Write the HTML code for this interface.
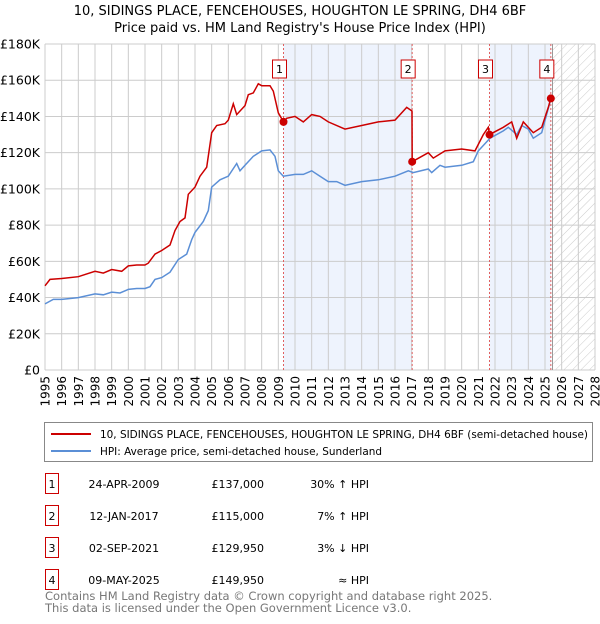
<!DOCTYPE html>
<html><head><meta charset="utf-8"><style>
body{margin:0;background:#fff;font-family:"DejaVu Sans","Liberation Sans",sans-serif;}
svg text{font-family:"DejaVu Sans","Liberation Sans",sans-serif;}
</style></head><body>
<svg id="chart" width="600" height="620" viewBox="0 0 600 620" xmlns="http://www.w3.org/2000/svg">
<defs><pattern id="hatch" width="6" height="6" patternUnits="userSpaceOnUse" patternTransform="rotate(45)"><line x1="0" y1="0" x2="0" y2="6" stroke="#ccc" stroke-width="1"/></pattern></defs>
<text x="300" y="15" text-anchor="middle" font-size="13">10, SIDINGS PLACE, FENCEHOUSES, HOUGHTON LE SPRING, DH4 6BF</text>
<text x="300" y="32" text-anchor="middle" font-size="13">Price paid vs. HM Land Registry's House Price Index (HPI)</text>
<g id="bg"></g><g id="grid"></g><g id="series"></g><g id="marks"></g>
<rect x="44.5" y="422.5" width="548" height="39" fill="#fff" stroke="#888"/>
<line x1="51" y1="434" x2="91" y2="434" stroke="#cc0000" stroke-width="2"/>
<text x="100" y="438" font-size="11" textLength="488" lengthAdjust="spacingAndGlyphs">10, SIDINGS PLACE, FENCEHOUSES, HOUGHTON LE SPRING, DH4 6BF (semi-detached house)</text>
<line x1="51" y1="451" x2="91" y2="451" stroke="#5b8fd6" stroke-width="2"/>
<text x="100" y="455" font-size="11" textLength="282" lengthAdjust="spacingAndGlyphs">HPI: Average price, semi-detached house, Sunderland</text>
<g id="table" font-size="11"></g>
<text x="45" y="600" font-size="11.5" fill="#777">Contains HM Land Registry data © Crown copyright and database right 2025.</text>
<text x="45" y="612" font-size="11.5" fill="#777">This data is licensed under the Open Government Licence v3.0.</text>
</svg>
<script>
const hpiT=[1995,1995.5,1996,1997,1998,1998.5,1999,1999.5,2000,2000.5,2001,2001.3,2001.6,2002,2002.5,2003,2003.5,2003.8,2004,2004.5,2004.8,2005,2005.5,2006,2006.5,2006.7,2007,2007.5,2008,2008.5,2008.8,2009,2009.3,2010,2010.5,2011,2011.5,2012,2012.5,2013,2014,2015,2016,2016.8,2017.1,2018,2018.2,2018.7,2019,2020,2020.7,2021,2021.7,2022.5,2022.8,2023.3,2023.6,2024,2024.3,2024.8,2025.3,2025.4];
const hpiV=[36.5,39,39,40,42,41.5,43,42.5,44.5,45,45,46,50,51,54,61,64,72,76,82,88,101,105,107,114,110,113,118,121,121.5,118,110,107,108,108,110,107,104,104,102,104,105,107,110,109,111,109,113,112,113,115,121,128,132,134,130,135,133,128,131,148,151];
const priceT=[1995,1995.3,1996,1997,1998,1998.5,1999,1999.6,2000,2000.5,2001,2001.2,2001.6,2002,2002.5,2002.8,2003.1,2003.4,2003.6,2004,2004.3,2004.7,2005,2005.3,2005.8,2006,2006.3,2006.5,2007,2007.2,2007.5,2007.8,2008,2008.5,2008.7,2009,2009.31,2009.5,2010,2010.5,2011,2011.5,2012,2013,2014,2015,2016,2016.7,2017.02,2017.03,2018,2018.3,2019,2020,2020.8,2021.3,2021.6,2021.67,2022.5,2023,2023.3,2023.7,2024.3,2024.8,2025.2,2025.35];
const priceV=[46.5,50,50.5,51.5,54.5,53.5,55.5,54.5,57.5,58,58,59,64,66,69,77,82,84,97,101,107,112,131,135,136,138,147,141,146,152,153,158,157,157,154,142,137,139,140,137,141,140,137,133,135,137,138,145,143,115,120,117,121,122,121,130,134,129.95,134,137,128,137,131,134,145,150];
const saleT=[2009.31,2017.03,2021.67,2025.35];
const saleV=[137,115,129.95,149.95];
const saleLabels=["1","2","3","4"];
const saleDates=["24-APR-2009","12-JAN-2017","02-SEP-2021","09-MAY-2025"];
const salePrices=["£137,000","£115,000","£129,950","£149,950"];
const saleHpi=["30% ↑ HPI","7% ↑ HPI","3% ↓ HPI","≈ HPI"];
const yTicks=[0,20,40,60,80,100,120,140,160,180];
const xTicks=[];for(let y=1995;y<=2028;y++)xTicks.push(y);
const X0=45,X1=595,Y0=370,Y1=44;
const x=t=>X0+(t-1995)/33*(X1-X0);
const y=v=>Y0-v/180*(Y0-Y1);
const NS="http://www.w3.org/2000/svg";
function mk(tag,parent,attrs){const e=document.createElementNS(NS,tag);for(const k in attrs)e.setAttribute(k,attrs[k]);document.getElementById(parent).appendChild(e);return e;}
let r=mk('rect','bg',{x:x(saleT[0]),y:Y1,width:x(saleT[1])-x(saleT[0]),height:Y0-Y1,fill:'#eef3fd'});


r=mk('rect','bg',{x:x(saleT[2]),y:Y1,width:x(saleT[3])-x(saleT[2]),height:Y0-Y1,fill:'#eef3fd'});


r=mk('rect','bg',{x:x(2025.45),y:Y1,width:X1-x(2025.45),height:Y0-Y1,fill:'url(#hatch)'});


xTicks.forEach(t=>{
 const l=mk('line','grid',{x1:x(t),x2:x(t),y1:Y1,y2:Y0,stroke:'#ccc','stroke-width':1});
 
 
 const tx=mk('text','grid',{x:0,y:0,'text-anchor':'end','font-size':12,transform:'translate('+(x(t)+4.5)+',376) rotate(-90)'});
 
 
 tx.textContent=t;
});
yTicks.forEach(v=>{
 const l=mk('line','grid',{x1:X0,x2:X1,y1:y(v),y2:y(v),stroke:'#ccc','stroke-width':1});
 
 
 const tx=mk('text','grid',{x:40,y:y(v)+4.5,'text-anchor':'end','font-size':12.5});
 
 
 tx.textContent=v===0?'£0':'£'+v+'K';
});
let nl=mk('line','grid',{x1:x(2025.45),x2:x(2025.45),y1:Y1,y2:Y0,stroke:'#999','stroke-width':1});


saleT.forEach((t,i)=>{
 const l=mk('line','grid',{x1:x(t),x2:x(t),y1:Y1,y2:Y0,stroke:'#e06060','stroke-width':1,'stroke-dasharray':'2,2'});
 
 
 const b=mk('rect','marks',{x:x(t)-11,y:60,width:14,height:18,fill:'#fff',stroke:'#cc0000'});
 
 
 const tx=mk('text','marks',{x:x(t)-4,y:73,'text-anchor':'middle','font-size':11});
 
 
 tx.textContent=saleLabels[i];
});
const pts=(T,V)=>T.map((t,i)=>x(t).toFixed(1)+','+y(V[i]).toFixed(1)).join(' ');
let p=mk('polyline','series',{points:pts(hpiT,hpiV),fill:'none',stroke:'#5b8fd6','stroke-width':1.5});


p=mk('polyline','series',{points:pts(priceT,priceV),fill:'none',stroke:'#cc0000','stroke-width':1.5});


saleT.forEach((t,i)=>{
 const c=mk('circle','series',{cx:x(t),cy:y(saleV[i]),r:4,fill:'#cc0000'});
 
 
});
saleT.forEach((t,i)=>{
 const ry=474+i*32;
 const b=mk('rect','table',{x:45.5,y:ry-0.5,width:13,height:20,fill:'#fff',stroke:'#cc0000'});
 
 
 const cells=[[52,'middle',saleLabels[i],'table-index'],[124,'middle',saleDates[i],'table-date'],[264,'end',salePrices[i],'table-price'],[369,'end',saleHpi[i],'table-hpi']];
 cells.forEach(c=>{
  const tx=mk('text','table',{x:c[0],y:ry+14,'text-anchor':c[1]});
  
  
  tx.textContent=c[2];
 });
});
</script>
</body></html>
